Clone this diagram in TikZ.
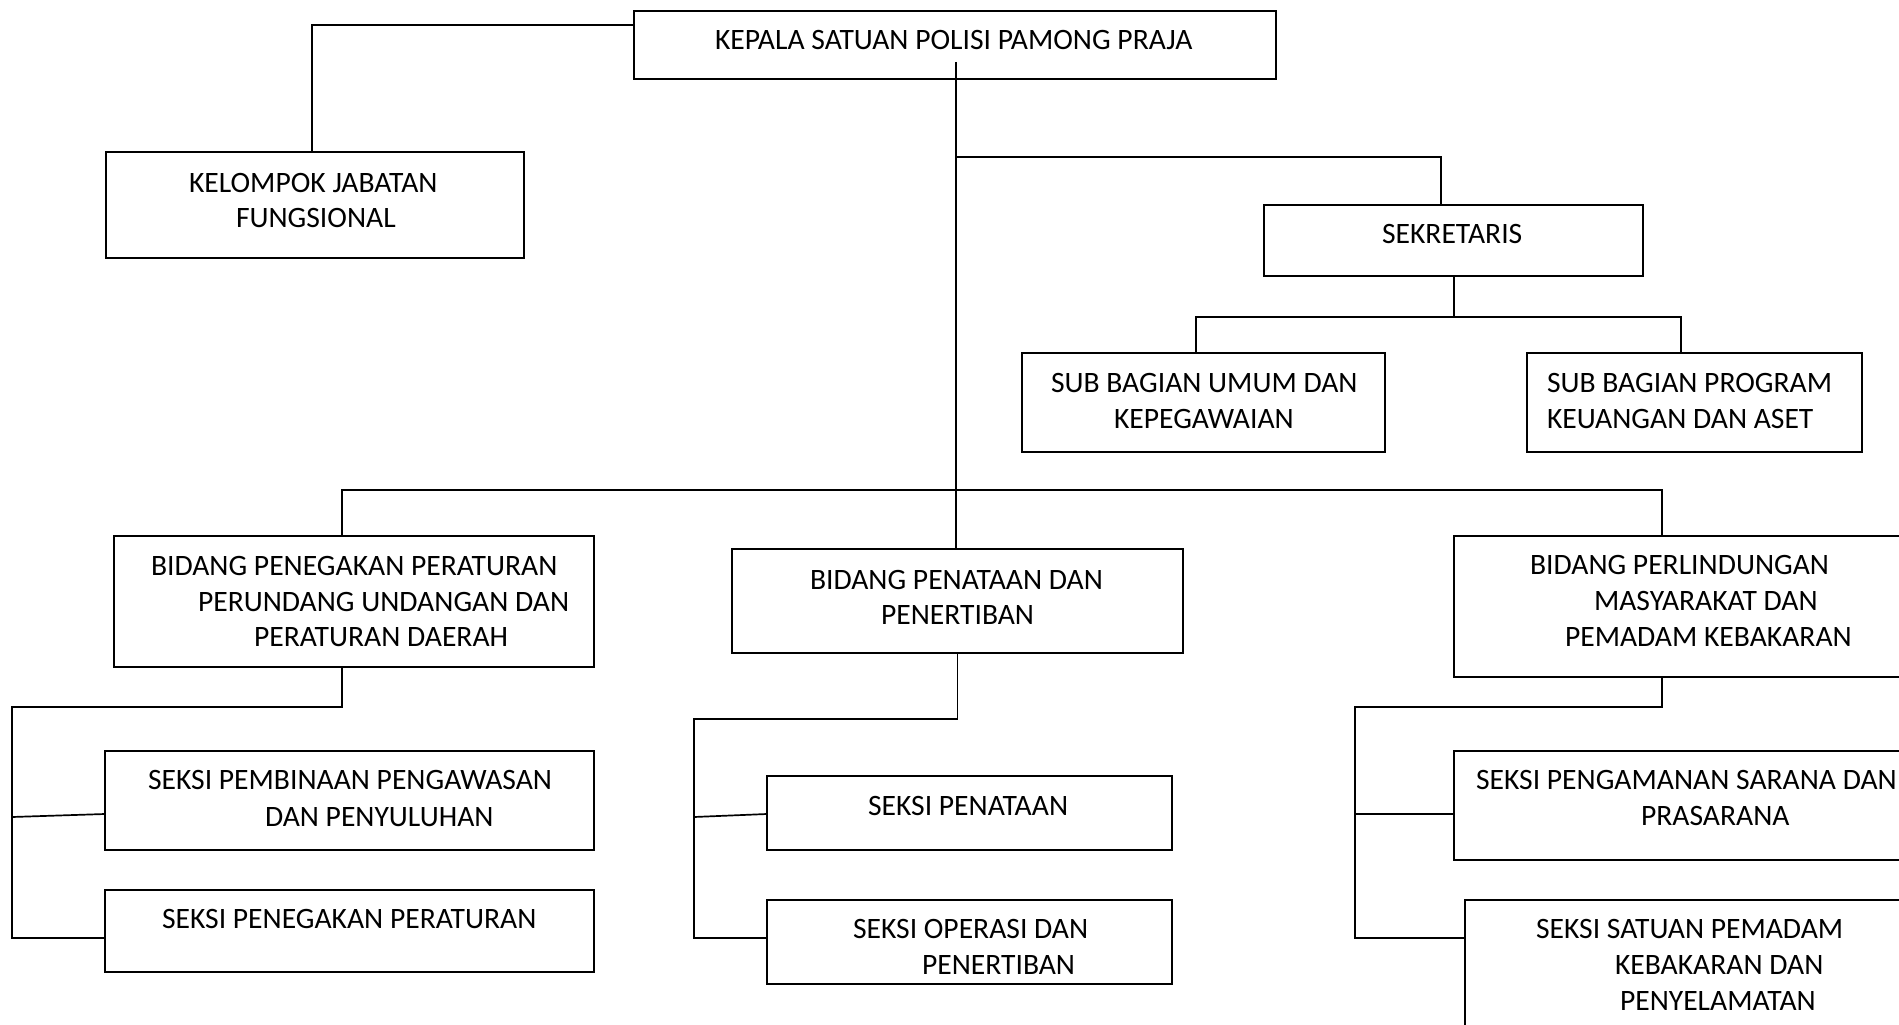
\documentclass[tikz,border=0pt]{standalone}
\usepackage{fontspec}
\setmainfont{Carlito}
\begin{document}
\begin{tikzpicture}[x=1pt,y=-1pt,
  box/.style={draw=black,line width=2pt,rectangle,anchor=north west,inner sep=0pt,outer sep=0pt},
  conn/.style={draw=black,line width=1.7pt},
  txt/.style={anchor=base west,inner sep=0pt,outer sep=0pt,font=\fontsize{29.6}{35.5}\selectfont}]
\useasboundingbox (0,0) rectangle (1899,1025);
\clip (0,0) rectangle (1899,1025);
\fill[white] (0,0) rectangle (1899,1025);
% boxes
\node[box,minimum width=642pt,minimum height=68pt] (kepala) at (634,11) {};
\node[box,minimum width=418pt,minimum height=106pt] (kelompok) at (106,152) {};
\node[box,minimum width=379pt,minimum height=71pt] (sekretaris) at (1264,205) {};
\node[box,minimum width=363pt,minimum height=99pt] (subumum) at (1022,353) {};
\node[box,minimum width=335pt,minimum height=99pt] (subprog) at (1527,353) {};
\node[box,minimum width=480pt,minimum height=131pt] (bidpenegak) at (114,536) {};
\node[box,minimum width=451pt,minimum height=104pt] (bidpenata) at (732,549) {};
\node[box,minimum width=470pt,minimum height=141pt] (bidperlin) at (1454,536) {};
\node[box,minimum width=489pt,minimum height=99pt] (seksipemb) at (105,751) {};
\node[box,minimum width=489pt,minimum height=82pt] (seksipeneg) at (105,890) {};
\node[box,minimum width=405pt,minimum height=74pt] (seksipenataan) at (767,776) {};
\node[box,minimum width=405pt,minimum height=84pt] (seksioperasi) at (767,900) {};
\node[box,minimum width=470pt,minimum height=109pt] (seksipengamanan) at (1454,751) {};
\node[box,minimum width=460pt,minimum height=150pt] (seksisatuan) at (1465,900) {};
% texts
\node[txt] (t1) at (715,50) {KEPALA SATUAN POLISI PAMONG PRAJA};
\node[txt] (t2a) at (189,192) {KELOMPOK JABATAN};
\node[txt] (t2b) at (236,227) {FUNGSIONAL};
\node[txt] (t3) at (1382,243) {SEKRETARIS};
\node[txt] (t4a) at (1051,392) {SUB BAGIAN UMUM DAN};
\node[txt] (t4b) at (1114,428) {KEPEGAWAIAN};
\node[txt] (t5a) at (1547,392) {SUB BAGIAN PROGRAM};
\node[txt] (t5b) at (1547,428) {KEUANGAN DAN ASET};
\node[txt] (t6a) at (151,575) {BIDANG PENEGAKAN PERATURAN};
\node[txt] (t6b) at (198,611) {PERUNDANG UNDANGAN DAN};
\node[txt] (t6c) at (254,646) {PERATURAN DAERAH};
\node[txt] (t7a) at (810,589) {BIDANG PENATAAN DAN};
\node[txt] (t7b) at (881,624) {PENERTIBAN};
\node[txt] (t8a) at (1530,574) {BIDANG PERLINDUNGAN};
\node[txt] (t8b) at (1594,610) {MASYARAKAT DAN};
\node[txt] (t8c) at (1565,646) {PEMADAM KEBAKARAN};
\node[txt] (t9a) at (148,789) {SEKSI PEMBINAAN PENGAWASAN};
\node[txt] (t9b) at (265,826) {DAN PENYULUHAN};
\node[txt] (t10) at (162,928) {SEKSI PENEGAKAN PERATURAN};
\node[txt] (t11) at (868,815) {SEKSI PENATAAN};
\node[txt] (t12a) at (853,938) {SEKSI OPERASI DAN};
\node[txt] (t12b) at (922,974) {PENERTIBAN};
\node[txt] (t13a) at (1476,789) {SEKSI PENGAMANAN SARANA DAN};
\node[txt] (t13b) at (1641,825) {PRASARANA};
\node[txt] (t14a) at (1536,938) {SEKSI SATUAN PEMADAM};
\node[txt] (t14b) at (1615,974) {KEBAKARAN DAN};
\node[txt] (t14c) at (1620,1010) {PENYELAMATAN};
% connector coordinates
\coordinate (kl) at (312,25);
\coordinate (mtop) at (956,62);
\coordinate (s1) at (1441,157);
\coordinate (s2) at (1454,317);
\coordinate (s2l) at (1196,317);
\coordinate (s2r) at (1681,317);
\coordinate (h3l) at (342,490);
\coordinate (h3r) at (1662,490);
\coordinate (b1) at (12,707);
\coordinate (b1m) at (12,817);
\coordinate (b1mr) at (105,814);
\coordinate (b1e) at (12,938);
\coordinate (b2) at (694,719);
\coordinate (b2m) at (694,817);
\coordinate (b2mr) at (767,814);
\coordinate (b2e) at (694,938);
\coordinate (b3) at (1355,707);
\coordinate (b3m) at (1355,814);
\coordinate (b3e) at (1355,938);
% connectors
\draw[conn] (kl -| kepala.west) -- (kl) -- (kl |- kelompok.north);
\draw[conn] (mtop) -- (mtop |- bidpenata.north);
\draw[conn] (s1 -| mtop) -- (s1) -- (s1 |- sekretaris.north);
\draw[conn] (s2 |- sekretaris.south) -- (s2);
\draw[conn] (s2l |- subumum.north) -- (s2l) -- (s2r) -- (s2r |- subprog.north);
\draw[conn] (h3l |- bidpenegak.north) -- (h3l) -- (h3r) -- (h3r |- bidperlin.north);
% left group
\draw[conn] (h3l |- bidpenegak.south) -- (h3l |- b1) -- (b1) -- (b1e) -- (b1e -| seksipeneg.west);
\draw[conn] (b1m) -- (b1mr);
% middle group
\draw[conn] (bidpenata.south) -- (b2 -| bidpenata.south) -- (b2) -- (b2e) -- (b2e -| seksioperasi.west);
\draw[conn] (b2m) -- (b2mr);
% right group
\draw[conn] (h3r |- bidperlin.south) -- (h3r |- b3) -- (b3) -- (b3e) -- (b3e -| seksisatuan.west);
\draw[conn] (b3m) -- (b3m -| seksipengamanan.west);
\end{tikzpicture}
\end{document}
